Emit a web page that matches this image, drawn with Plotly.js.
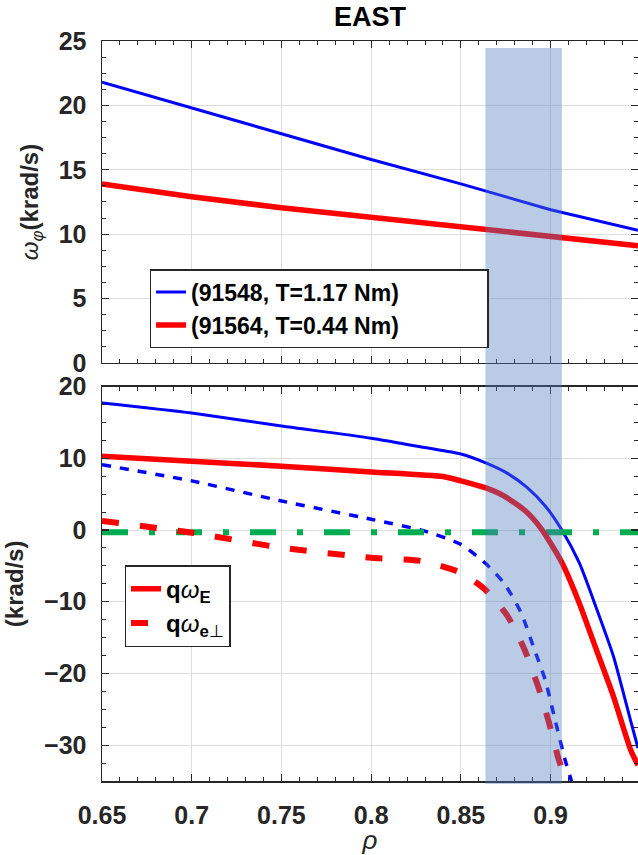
<!DOCTYPE html>
<html><head><meta charset="utf-8">
<script src="https://cdn.plot.ly/plotly-3.0.1.min.js"></script>
<style>html,body{margin:0;padding:0;background:#fff}#plot{width:638px;height:855px}</style>
</head><body><div id="plot"></div>
<script>
// ---- data ----
const rhoTop   = [0.65, 0.70, 0.75, 0.80, 0.85, 0.90, 0.9487];
const wBlueTop = [21.8, 19.8, 17.8, 15.8, 13.9, 11.9, 10.3];
const wRedTop  = [13.9, 12.9, 12.05, 11.3, 10.6, 9.8, 9.1];

const rhoBlueE = [0.65,0.70,0.75,0.80,0.83,0.85,0.8635,0.876,0.887,0.897,0.906,0.916,0.9245,0.935,0.9445,0.9487];
const blueE    = [17.7,16.3,14.5,12.8,11.5,10.6,9.4,7.9,5.9,3.35,0.1,-4.6,-10.2,-17.6,-26.5,-30.4];
const rhoRedE  = [0.65,0.70,0.75,0.80,0.84,0.85,0.8635,0.874,0.886,0.895,0.9064,0.916,0.9255,0.935,0.9445,0.9487];
const redE     = [10.3,9.6,8.9,8.1,7.45,6.85,5.9,4.75,2.65,0.1,-4.6,-10.2,-16.7,-23.2,-30.6,-32.8];
const rhoBlueP = [0.65,0.70,0.75,0.80,0.83,0.85,0.8635,0.874,0.8835,0.891,0.897,0.9025,0.908,0.912];
const blueP    = [9.1,6.85,4.05,1.5,-0.15,-2.0,-4.6,-7.4,-11.5,-16.7,-20.9,-26.5,-32.0,-35.3];
const rhoRedP  = [0.65,0.70,0.75,0.80,0.828,0.85,0.8635,0.876,0.8855,0.893,0.8987,0.9045,0.9064];
const redP     = [1.26,-0.37,-2.47,-3.87,-4.33,-5.96,-8.3,-12.0,-16.7,-21.8,-26.5,-32.0,-33.4];
const rhoZero  = [0.65, 0.9487];
const zeroLine = [-0.3, -0.3];

const shadeRho = [0.8637, 0.9063];
const topLegend = ['(91548, T=1.17 Nm)', '(91564, T=0.44 Nm)'];
const xTicks = [0.65, 0.7, 0.75, 0.8, 0.85, 0.9];
const xTickText = ['0.65','0.7','0.75','0.8','0.85','0.9'];

// ---- styling ----
const FONT = '"Liberation Sans", Arial, Helvetica, sans-serif';
const DARK = '#262626';
const xr = [0.65, 0.9487];
const PAD = '&nbsp;'.repeat(13);

const traces = [
  {x: rhoTop, y: wBlueTop, xaxis:'x', yaxis:'y', mode:'lines', name:'<b>'+topLegend[0]+'</b>'+PAD,
   line:{color:'#0000FF', width:3}, legend:'legend'},
  {x: rhoTop, y: wRedTop, xaxis:'x', yaxis:'y', mode:'lines', name:'<b>'+topLegend[1]+'</b>'+PAD,
   line:{color:'#FF0000', width:5.5}, legend:'legend'},
  {x: rhoBlueE, y: blueE, xaxis:'x2', yaxis:'y2', mode:'lines', showlegend:false,
   line:{color:'#0000FF', width:3, shape:'spline', smoothing:0.6}},
  {x: rhoBlueP, y: blueP, xaxis:'x2', yaxis:'y2', mode:'lines', showlegend:false,
   line:{color:'#0000FF', width:3.5, dash:'9px,9px', shape:'spline', smoothing:0.6}},
  {x: rhoZero, y: zeroLine, xaxis:'x2', yaxis:'y2', mode:'lines', showlegend:false,
   line:{color:'rgb(0,172,80)', width:6, dash:'26px,21px,6px,21px'}},
  {x: rhoRedE, y: redE, xaxis:'x2', yaxis:'y2', mode:'lines', name:'<b>q</b><i>ω</i><sub><b>E</b></sub>',
   line:{color:'#FF0000', width:5.5, shape:'spline', smoothing:0.6}, legend:'legend2'},
  {x: rhoRedP, y: redP, xaxis:'x2', yaxis:'y2', mode:'lines', name:'<b>q</b><i>ω</i><sub><b>e</b>⊥</sub>',
   line:{color:'#FF0000', width:6, dash:'17px,21px', shape:'spline', smoothing:0.6}, legend:'legend2'}
];

const axBase = {
  showline:true, linecolor:DARK, linewidth:1.5, mirror:'allticks',
  ticks:'inside', ticklen:7, tickwidth:1.2, tickcolor:DARK,
  showgrid:true, gridcolor:'rgb(222,222,222)', gridwidth:1, zeroline:false,
  tickfont:{family:FONT, size:25, color:DARK, weight:'bold'},
  minor:{ticks:'inside', ticklen:4, tickwidth:1, tickcolor:DARK, showgrid:false}
};

const layout = {
  width:638, height:855,
  margin:{l:102, r:0, t:41, b:74},
  paper_bgcolor:'#fff', plot_bgcolor:'#fff',
  font:{family:FONT, color:DARK},
  title:{text:'<b>EAST</b>', font:{family:FONT, size:27, color:'#000'},
         x:0.5, xref:'paper', xanchor:'center', y:1-17/855, yanchor:'middle'},
  xaxis:Object.assign({}, axBase, {anchor:'y', range:xr, tickvals:xTicks, ticktext:xTickText,
        showticklabels:false, minor:Object.assign({}, axBase.minor, {dtick:0.01})}),
  yaxis:Object.assign({}, axBase, {anchor:'x', domain:[0.565,1], range:[0,25], dtick:5,
        ticklabelstandoff:9, minor:Object.assign({}, axBase.minor, {dtick:1.25}),
        title:{text:'<i>ω</i><sub><i>φ</i></sub><b>(krad/s)</b>', font:{family:FONT, size:24, color:DARK}, standoff:13}}),
  xaxis2:Object.assign({}, axBase, {anchor:'y2', range:xr, tickvals:xTicks, ticktext:xTickText,
        ticklabelstandoff:11, minor:Object.assign({}, axBase.minor, {dtick:0.01}),
        title:{text:'<i>ρ</i>', font:{family:FONT, size:26, color:DARK}, standoff:11}}),
  yaxis2:Object.assign({}, axBase, {anchor:'x2', domain:[0,0.533], range:[-35,20], dtick:10,
        ticklabelstandoff:9, minor:Object.assign({}, axBase.minor, {dtick:2.5}),
        title:{text:'<b>(krad/s)</b>', font:{family:FONT, size:24, color:DARK}, standoff:13}}),
  legend:{x:0.0887, y:0.6917, xref:'paper', yref:'paper', xanchor:'left', yanchor:'top',
          bgcolor:'#fff', bordercolor:DARK, borderwidth:1.5,
          font:{family:FONT, size:23, color:'#000'}, tracegroupgap:0},
  legend2:{x:0.042, y:0.2916, xref:'paper', yref:'paper', xanchor:'left', yanchor:'top',
          bgcolor:'#fff', bordercolor:DARK, borderwidth:1.5,
          font:{family:FONT, size:24, color:'#000'}, tracegroupgap:0},
  shapes:[{type:'rect', xref:'x', yref:'paper', x0:shadeRho[0], x1:shadeRho[1],
           y0:-0.004, y1:(781-48)/740, fillcolor:'rgb(80,125,190)', opacity:0.4,
           line:{width:0}, layer:'above'}]
};

Plotly.newPlot('plot', traces, layout, {displayModeBar:false, staticPlot:true});
</script></body></html>
